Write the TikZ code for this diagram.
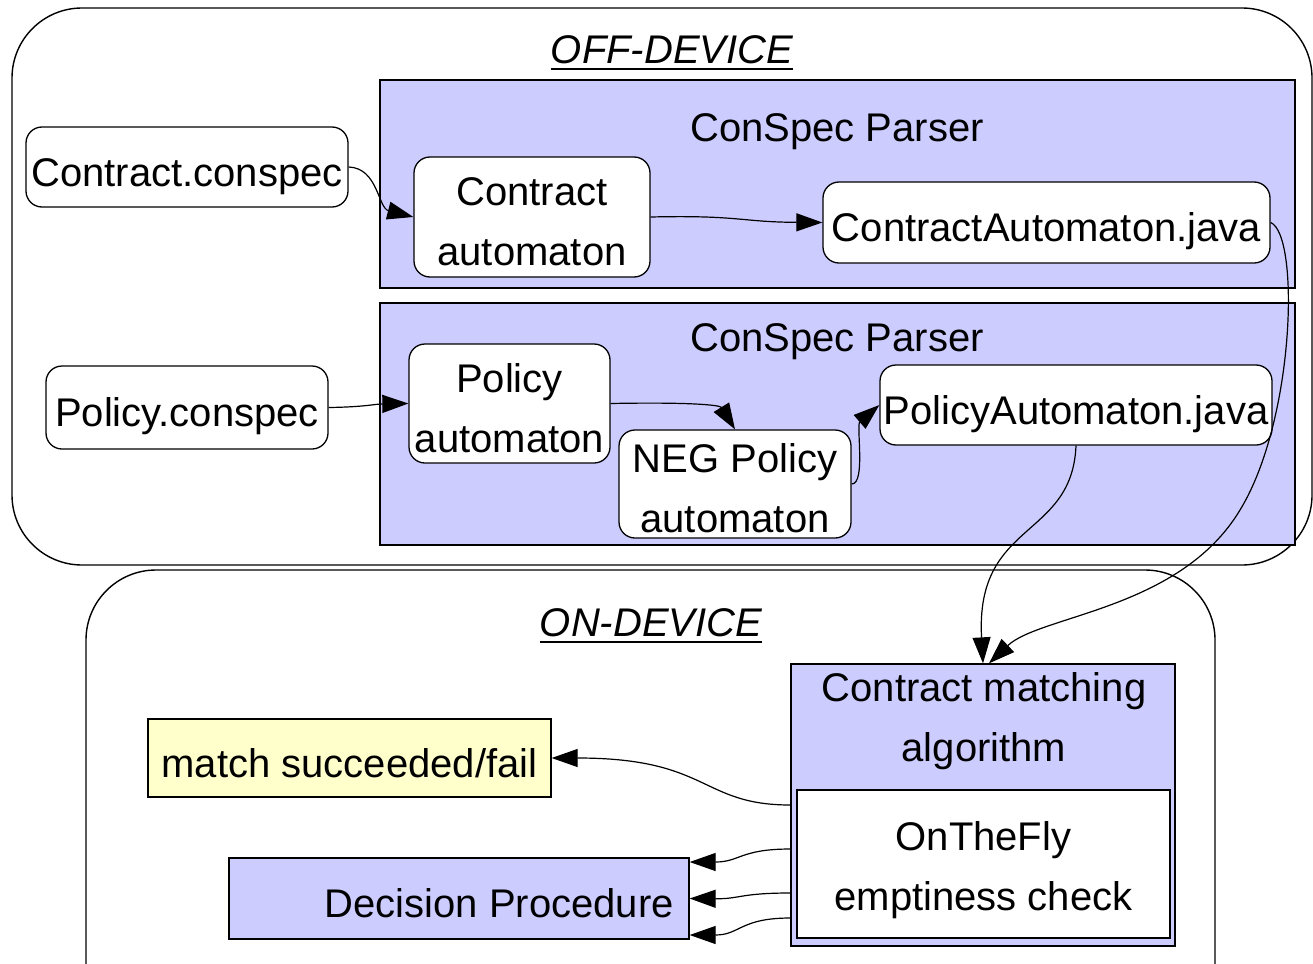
\documentclass[tikz,border=0pt]{standalone}
\usepackage{fontspec}
\setmainfont{Liberation Sans}
\usetikzlibrary{arrows.meta,calc}
\definecolor{parserblue}{HTML}{CCCCFF}
\definecolor{resultyellow}{HTML}{FFFFCC}
\tikzset{
  region/.style={draw=black, line width=1.4pt, rounded corners=70pt},
  parserbox/.style={draw=black, line width=1.4pt, fill=parserblue, inner sep=0pt},
  filebox/.style={draw=black, line width=1.3pt, fill=white, rounded corners=16pt, inner sep=0pt, align=center},
  plainbox/.style={draw=black, line width=1.3pt, inner sep=0pt, align=center},
  oneline/.style={text height=38pt, text depth=0pt},
  twoline/.style={text height=97pt, text depth=0pt},
  arr/.style={line width=1.2pt, -{Triangle[length=26pt,width=18pt]}},
  regiontitle/.style={font=\fontsize{40}{48}\selectfont\itshape, inner sep=0pt},
}
\begin{document}
\begin{tikzpicture}[x=1pt, y=-1pt, font=\fontsize{40}{60}\selectfont]
\path[use as bounding box] (0,0) rectangle (1313,963);
\clip (0,0) rectangle (1313,963);

% the two deployment regions
\draw[region] (12,8) rectangle (1312,565);
\draw[region] (86,570) rectangle (1215,1060);

\node[regiontitle] (offt) at (672,50) {OFF-DEVICE};
\draw[line width=2.5pt] ([yshift=-5pt]offt.base west) -- ([yshift=-5pt]offt.base east);
\node[regiontitle] (ont) at (651,623) {ON-DEVICE};
\draw[line width=2.5pt] ([yshift=-5pt]ont.base west) -- ([yshift=-5pt]ont.base east);

% parser stages
\node[parserbox, minimum width=915pt, minimum height=208pt] (p1) at (837.5,184) {};
\node[inner sep=0pt] (p1t) at (837,132) {ConSpec Parser};
\node[parserbox, minimum width=915pt, minimum height=242pt] (p2) at (837.5,424) {};
\node[inner sep=0pt] (p2t) at (837,342) {ConSpec Parser};

% contract chain
\node[filebox, oneline, minimum width=322pt, minimum height=80pt] (cs) at (187,167) {Contract.conspec};
\node[filebox, twoline, minimum width=236pt, minimum height=120pt] (ca) at (532,217) {Contract\\automaton};
\node[filebox, oneline, minimum width=447pt, minimum height=81pt] (caj) at (1046.5,222.5) {ContractAutomaton.java};

% policy chain
\node[filebox, oneline, minimum width=282pt, minimum height=83pt] (ps) at (187,407.5) {Policy.conspec};
\node[filebox, twoline, minimum width=201pt, minimum height=119pt] (pa) at (509.5,403.5) {Policy\\automaton};
\node[filebox, twoline, minimum width=232pt, minimum height=108pt] (neg) at (735,484) {NEG Policy\\automaton};
\node[filebox, oneline, minimum width=392pt, minimum height=80pt] (paj) at (1076,405) {PolicyAutomaton.java};

% on-device components
\node[plainbox, fill=parserblue, minimum width=384pt, minimum height=282pt] (cm) at (983,805) {};
\node[inner sep=0pt, align=center] (cmt) at (984,721) {Contract matching\\algorithm};
\node[plainbox, twoline, text height=93pt, fill=white, minimum width=373pt, minimum height=148pt] (otf) at (983.5,864) {OnTheFly\\emptiness check};
\node[plainbox, oneline, fill=resultyellow, minimum width=403pt, minimum height=78pt] (res) at (349.5,758) {match succeeded/fail};
\node[plainbox, fill=parserblue, minimum width=460pt, minimum height=81pt] (dp) at (459,898.5) {};
\node[inner sep=0pt, anchor=east] (dpt) at (674,903) {Decision Procedure};

% connectors
\draw[arr] (cs.east) .. controls (378,168) and (378,208) .. (ca.west);
\draw[arr] (ca.east) .. controls (740,215) and (740,222) .. (caj.west);
\draw[arr] (caj.east) .. controls (1300,235) and (1295,420) .. (1240,510)
  .. controls (1180,610) and (1040,615) .. ([xshift=6pt]cm.north);
\draw[arr] (ps.east) .. controls (365,407) and (375,404) .. (pa.west);
\draw[arr] (pa.east) .. controls (690,402) and (720,405) .. (neg.north);
\draw[arr] (neg.east) .. controls (866,484) and (856,425) .. (paj.west);
\draw[arr] (paj.south) .. controls (1072,540) and (975,520) .. (cm.north);
\draw[arr] (cm.west) .. controls (700,805) and (710,758) .. (res.east);
\draw[arr] ([yshift=-44pt]cm.west) .. controls (740,849) and (740,862) .. ([yshift=36.5pt]dp.east);
\draw[arr] ([yshift=-88pt]cm.west) .. controls (740,893) and (740,899) .. (dp.east);
\draw[arr] ([yshift=-113pt]cm.west) .. controls (740,918) and (740,935) .. ([yshift=-36.5pt]dp.east);
\end{tikzpicture}
\end{document}
